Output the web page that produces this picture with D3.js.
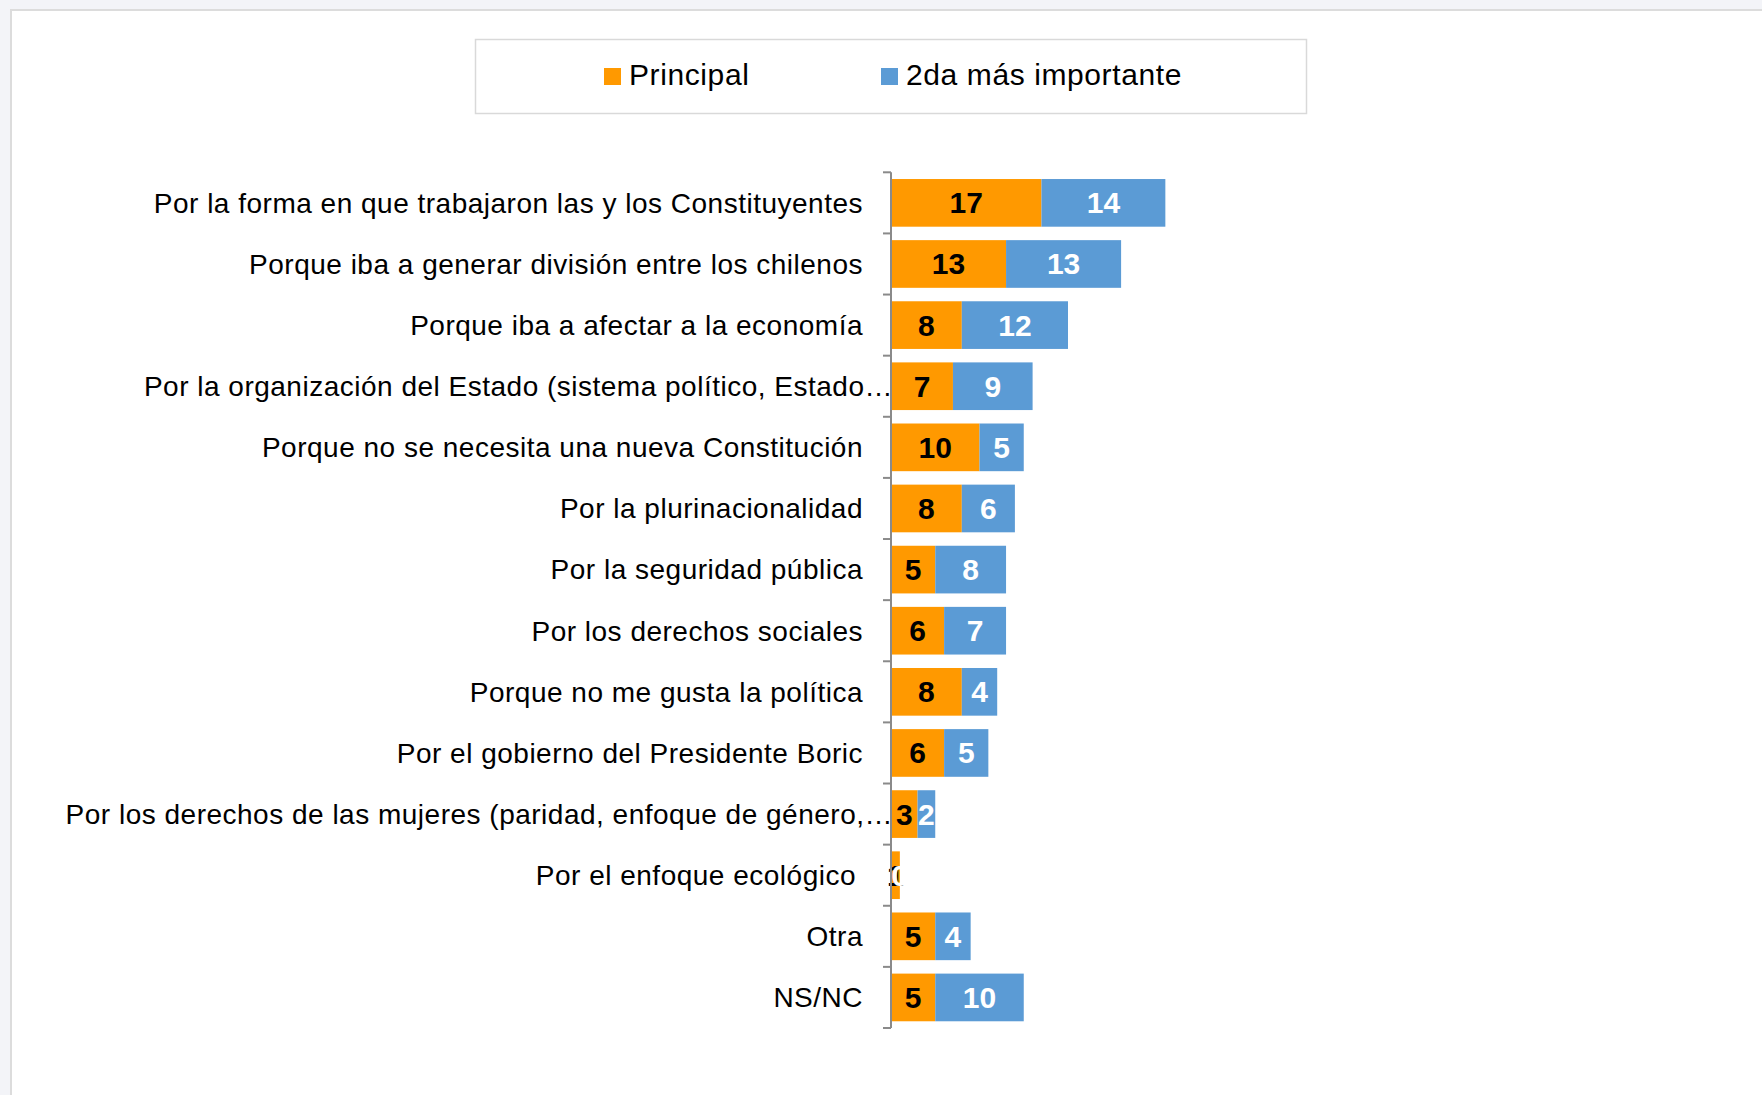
<!DOCTYPE html>
<html>
<head>
<meta charset="utf-8">
<script src="https://cdn.jsdelivr.net/npm/d3@7"></script>
<style>
  html, body { margin: 0; padding: 0; background: #f3f4f8; overflow: hidden; }
  #panel { position: absolute; left: 10px; top: 9px; width: 1770px; height: 1100px;
           background: #fff; border-left: 2px solid #dcdcdc; border-top: 2px solid #dcdcdc; }
  svg { position: absolute; left: 0; top: 0; }
  text { font-family: "Liberation Sans", Arial, sans-serif; }
</style>
</head>
<body>
<div id="panel"></div>
<script>
var categories = [
  'Por la forma en que trabajaron las y los Constituyentes',
  'Porque iba a generar división entre los chilenos',
  'Porque iba a afectar a la economía',
  'Por la organización del Estado (sistema político, Estado…',
  'Porque no se necesita una nueva Constitución',
  'Por la plurinacionalidad',
  'Por la seguridad pública',
  'Por los derechos sociales',
  'Porque no me gusta la política',
  'Por el gobierno del Presidente Boric',
  'Por los derechos de las mujeres (paridad, enfoque de género,…',
  'Por el enfoque ecológico',
  'Otra',
  'NS/NC'
];
var principal = [17, 13, 8, 7, 10, 8, 5, 6, 8, 6, 3, 1, 5, 5];
var segunda = [14, 13, 12, 9, 5, 6, 8, 7, 4, 5, 2, 0, 4, 10];
var seriesNames = ['Principal', '2da más importante'];
var colors = ['#ff9900', '#5b9bd5'];
var labelColors = ['#000', '#fff'];

var svg = d3.select('body').append('svg').attr('width', 1762).attr('height', 1095);

var x = d3.scaleLinear().domain([0, 20]).range([891, 891 + 177]);
var y = d3.scaleBand().domain(categories).range([172.3, 1028]).paddingInner(0.22).paddingOuter(0.11);

// stacked rows
var rows = categories.map(function (c, i) {
  return { cat: c, vals: [principal[i], segunda[i]] };
});
var stack = d3.stack().keys([0, 1]).value(function (d, k) { return d.vals[k]; });
var layers = stack(rows);

var g = svg.append('g');

layers.forEach(function (layer, k) {
  g.selectAll('rect.s' + k).data(layer).enter().append('rect')
    .attr('class', 's' + k)
    .attr('x', function (d) { return x(d[0]); })
    .attr('y', function (d) { return y(d.data.cat); })
    .attr('width', function (d) { return x(d[1]) - x(d[0]); })
    .attr('height', y.bandwidth())
    .attr('fill', colors[k]);
});

layers.forEach(function (layer, k) {
  g.selectAll('text.v' + k).data(layer).enter().append('text')
    .attr('class', 'v' + k)
    .attr('x', function (d) { return (x(d[0]) + x(d[1])) / 2; })
    .attr('y', function (d) { return y(d.data.cat) + y.bandwidth() / 2; })
    .attr('dy', '0.35em')
    .attr('text-anchor', 'middle')
    .attr('font-size', 30)
    .attr('font-weight', 'bold')
    .attr('fill', labelColors[k])
    .text(function (d) { return d.data.vals[k]; });
});

// axis line + ticks at band boundaries
var axisColor = '#8a8a8a';
var y0 = y.range()[0], step = y.step();
g.append('line').attr('x1', x(0)).attr('x2', x(0))
  .attr('y1', y0).attr('y2', y0 + step * categories.length)
  .attr('stroke', axisColor).attr('stroke-width', 2);
g.selectAll('line.tick').data(d3.range(categories.length + 1)).enter().append('line')
  .attr('class', 'tick')
  .attr('x1', x(0) - 8).attr('x2', x(0))
  .attr('y1', function (i) { return y0 + i * step; })
  .attr('y2', function (i) { return y0 + i * step; })
  .attr('stroke', axisColor).attr('stroke-width', 2);

// category labels
g.selectAll('text.cat').data(categories).enter().append('text')
  .attr('class', 'cat')
  .attr('x', function (d) {
    if (d.slice(-1) === '…') return 893;
    if (d === 'Por el enfoque ecológico') return 856;
    return 863;
  })
  .attr('y', function (d) { return y(d) + y.bandwidth() / 2; })
  .attr('dy', '0.35em')
  .attr('text-anchor', 'end')
  .attr('font-size', 28)
  .attr('letter-spacing', 0.5)
  .attr('fill', '#000')
  .text(function (d) { return d; });

// legend
var legend = svg.append('g');
legend.append('rect').attr('x', 475.5).attr('y', 39.5).attr('width', 831).attr('height', 74)
  .attr('fill', '#fff').attr('stroke', '#d9d9d9').attr('stroke-width', 1.5);
var legX = [604, 881];
var items = legend.selectAll('g.item').data(seriesNames).enter().append('g').attr('class', 'item');
items.append('rect')
  .attr('x', function (d, i) { return legX[i]; })
  .attr('y', 68).attr('width', 17).attr('height', 17)
  .attr('fill', function (d, i) { return colors[i]; });
items.append('text')
  .attr('x', function (d, i) { return legX[i] + 25; })
  .attr('y', 85)
  .attr('font-size', 30)
  .attr('letter-spacing', 0.6)
  .attr('fill', '#000')
  .text(function (d) { return d; });
</script>
</body>
</html>
